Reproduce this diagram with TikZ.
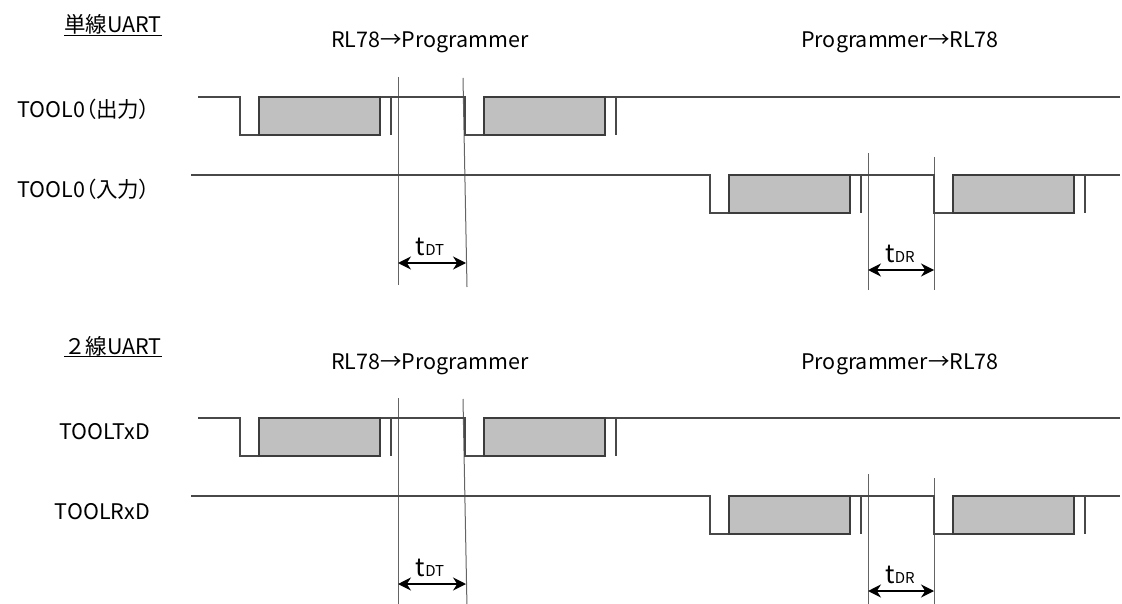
\documentclass[tikz,border=0pt]{standalone}
\usepackage{fontspec}
\setmainfont{Noto Sans CJK JP}
\newfontfamily\jppalt{Noto Sans CJK JP}[RawFeature=+palt]
\usetikzlibrary{arrows.meta}
\definecolor{sigline}{RGB}{72,72,72}
\definecolor{framegray}{RGB}{60,60,60}
\definecolor{datafill}{RGB}{192,192,192}
\definecolor{guidegray}{RGB}{100,100,100}

\begin{document}
\begin{tikzpicture}[x=1pt,y=-1pt,
    every node/.style={font=\fontsize{21.5}{26}\selectfont, inner sep=0pt},
    sig/.style={line width=2.2pt, sigline},
    frame/.style={line width=2.8pt, framegray, fill=datafill},
    guide/.style={line width=1pt, guidegray},
    dim/.style={line width=1.8pt, {Stealth[length=13pt,width=13pt]}-{Stealth[length=13pt,width=13pt]}}]
  \useasboundingbox (0,0) rectangle (1122,604);
  \foreach \dy/\ttl/\sa/\sb in {0/単線UART/{\jppalt TOOL0（出力）}/{\jppalt TOOL0（入力）},
                               321/２線UART/TOOLTxD/TOOLRxD} {
    \begin{scope}[yshift=-\dy pt]
      % headings
      \node[anchor=base west] (ttl\dy) at (64,33) {\ttl};
      \draw[line width=1.4pt] ([yshift=-2.5pt]ttl\dy.base west) -- ([yshift=-2.5pt]ttl\dy.base east);
      \node[anchor=base] (dirt\dy) at (430,48) {RL78→Programmer};
      \node[anchor=base] (dirr\dy) at (900,48) {Programmer→RL78};
      \node[anchor=base east] (siga\dy) at (150,118) {\sa};
      \node[anchor=base east] (sigb\dy) at (150,198) {\sb};
      % guide lines
      \draw[guide] (398,77) -- (398,285);
      \draw[guide] (463,78) -- (467,287);
      \draw[guide] (868,153) -- (868,290);
      \draw[guide] (934,157) -- (934,290);
      % transmit line
      \draw[sig] (198,97) -| (240,135) -- (259,135)
                 (380,97) -| (465,135) -- (484,135)
                 (605,97) -- (1120,97);
      \foreach \f in {240,465} {
        \draw[frame] (\f+19,97) rectangle (\f+140,135);
        \draw[sig] (\f+151,97) -- (\f+151,135);
      }
      % receive line
      \draw[sig] (191,175) -| (710,213) -- (729,213)
                 (850,175) -| (934,213) -- (953,213)
                 (1074,175) -- (1120,175);
      \foreach \f in {710,934} {
        \draw[frame] (\f+19,175) rectangle (\f+140,213);
        \draw[sig] (\f+151,175) -- (\f+151,213);
      }
      % delay times
      \coordinate (dta\dy) at (398,263);
      \coordinate (dtb\dy) at (466,263);
      \coordinate (dra\dy) at (868,270);
      \coordinate (drb\dy) at (934,270);
      \draw[dim] (dta\dy) -- (dtb\dy);
      \draw[dim] (dra\dy) -- (drb\dy);
      \node[anchor=base] (tdt\dy) at (430,255) {\fontsize{25}{28}\selectfont t\fontsize{15}{18}\selectfont DT};
      \node[anchor=base] (tdr\dy) at (900,262) {\fontsize{25}{28}\selectfont t\fontsize{15}{18}\selectfont DR};
    \end{scope}
  }
\end{tikzpicture}
\end{document}
